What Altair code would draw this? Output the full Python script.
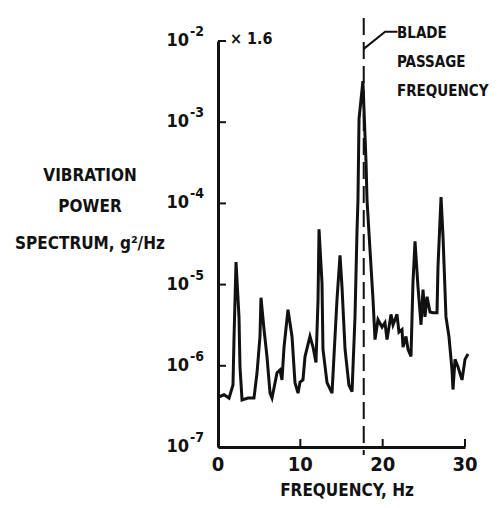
import altair as alt
import pandas as pd

# ---- data ----
freq = [0.0, 0.73, 1.34, 1.82, 1.94, 2.19, 2.55, 2.67, 2.92, 3.64,
        4.37, 4.74, 5.10, 5.22, 5.59, 5.95, 6.32, 6.56, 7.17, 7.53,
        7.77, 8.02, 8.50, 8.99, 9.35, 9.72, 9.96, 10.32, 10.57, 11.17,
        11.54, 11.90, 12.15, 12.27, 12.63, 12.75, 13.24, 13.85, 14.45, 14.82,
        15.06, 15.43, 15.90, 16.28, 16.64, 16.88, 17.00, 17.13, 17.60, 17.98,
        18.10, 18.46, 18.83, 19.07, 19.43, 19.92, 20.28, 20.53, 21.01, 21.26,
        21.74, 21.98, 22.35, 22.47, 22.83, 23.08, 23.44, 23.68, 23.93, 24.29,
        24.66, 24.90, 25.14, 25.39, 25.75, 26.11, 26.60, 26.72, 27.09, 27.33,
        27.69, 28.05, 28.42, 28.54, 28.79, 29.15, 29.64, 30.00, 30.37]
psd = [4.1e-7, 4.4e-7, 4.0e-7, 5.8e-7, 2.1e-6, 1.9e-5, 4.0e-6, 9.7e-7, 3.8e-7, 4.0e-7,
       4.0e-7, 8.2e-7, 2.3e-6, 6.9e-6, 2.8e-6, 1.3e-6, 4.6e-7, 4.0e-7, 8.2e-7, 8.9e-7,
       6.7e-7, 1.7e-6, 4.9e-6, 2.3e-6, 6.2e-7, 4.6e-7, 6.3e-7, 6.7e-7, 1.3e-6, 2.3e-6,
       1.7e-6, 1.1e-6, 6.5e-6, 4.8e-5, 1.06e-5, 1.6e-6, 6.2e-7, 4.6e-7, 6.5e-6, 2.3e-5,
       9.4e-6, 1.6e-6, 5.8e-7, 4.8e-7, 4.0e-6, 4.4e-5, 1.1e-4, 1.1e-3, 3.2e-3, 3.2e-4,
       1.1e-4, 2.7e-5, 6.5e-6, 2.1e-6, 3.7e-6, 3.0e-6, 3.4e-6, 2.1e-6, 4.3e-6, 3.2e-6,
       4.3e-6, 2.6e-6, 2.8e-6, 1.7e-6, 2.3e-6, 1.6e-6, 1.3e-6, 1.06e-5, 3.4e-5, 9.4e-6,
       3.2e-6, 8.7e-6, 4.0e-6, 7.1e-6, 4.6e-6, 4.5e-6, 4.5e-6, 1.67e-5, 1.2e-4, 3.9e-5,
       4.0e-6, 2.3e-6, 8.9e-7, 5.1e-7, 1.2e-6, 9.7e-7, 6.7e-7, 1.2e-6, 1.4e-6]

ytick_vals = [1e-7, 1e-6, 1e-5, 1e-4, 1e-3, 1e-2]
ytick_exps = ["-7", "-6", "-5", "-4", "-3", "-2"]
xtick_vals = [0, 10, 20, 30]
xtick_labels = ["0", "10", "20", "30"]
blade_freq = [17.7]
leader_f = [17.7, 20.3, 21.8]
leader_v = [8.0e-3, 1.3e-2, 1.3e-2]
annot_lines = ["BLADE", "PASSAGE", "FREQUENCY"]
ytitle_lines = ["VIBRATION", "POWER", "SPECTRUM, g\u00b2/Hz"]
xtitle = "FREQUENCY, Hz"
top_note = "\u00d7 1.6"

W, H = 247, 406
FONT = "DejaVu Sans Condensed, DejaVu Sans, sans-serif"
INK = "#111111"

df = pd.DataFrame({"f": freq, "psd": psd})
xs = alt.Scale(domain=[0, 30], nice=False, zero=False)
ys = alt.Scale(type="log", domain=[1e-7, 1e-2], nice=False)

ax = alt.Axis(labels=False, ticks=False, grid=False, domainColor=INK, domainWidth=3, title=None)


def X(field):
    return alt.X(field, scale=xs, axis=ax)


def Y(field):
    return alt.Y(field, scale=ys, axis=ax)


line = alt.Chart(df).mark_line(color=INK, strokeWidth=3, clip=False).encode(
    x=X("f:Q"), y=Y("psd:Q"))

ytdf = pd.DataFrame({"v": ytick_vals, "exp": ytick_exps})
yticks = alt.Chart(ytdf).mark_rule(color=INK, strokeWidth=2).encode(
    y=Y("v:Q"), x=alt.value(0), x2=alt.value(8))
y10 = alt.Chart(ytdf).mark_text(align="right", baseline="middle", font=FONT,
                                fontSize=18, fontWeight="bold", color=INK).encode(
    y=Y("v:Q"), x=alt.value(-29), text=alt.value("10"))
yexp = alt.Chart(ytdf).mark_text(align="left", baseline="middle", font=FONT,
                                 fontSize=14, fontWeight="bold", color=INK, dy=-9).encode(
    y=Y("v:Q"), x=alt.value(-28), text="exp:N")

xtdf = pd.DataFrame({"v": xtick_vals, "lab": xtick_labels})
xticks = alt.Chart(xtdf[xtdf.v > 0]).mark_rule(color=INK, strokeWidth=2).encode(
    x=X("v:Q"), y=alt.value(H), y2=alt.value(H - 8))
xlabs = alt.Chart(xtdf).mark_text(align="center", baseline="middle", font=FONT,
                                  fontSize=20, fontWeight="bold", color=INK).encode(
    x=X("v:Q"), y=alt.value(H + 18), text="lab:N")

dash = alt.Chart(pd.DataFrame({"f": blade_freq})).mark_rule(
    color=INK, strokeWidth=2, strokeDash=[17, 7]).encode(
    x=X("f:Q"), y=alt.value(-23), y2=alt.value(H + 8))

leader = alt.Chart(pd.DataFrame({"f": leader_f, "v": leader_v, "o": [0, 1, 2]})).mark_line(
    color=INK, strokeWidth=2, clip=False).encode(
    x=X("f:Q"), y=Y("v:Q"), order="o:Q")

annot = alt.Chart(pd.DataFrame({"t": annot_lines, "yy": [-8, 21, 50]})).mark_text(
    align="left", baseline="middle", font=FONT, fontSize=15, fontWeight="bold", color=INK).encode(
    x=alt.value(179), y=alt.Y("yy:Q", scale=None, axis=None), text="t:N")

ytitle = alt.Chart(pd.DataFrame({"t": ytitle_lines, "yy": [135, 166, 203]})).mark_text(
    align="center", baseline="middle", font=FONT, fontSize=17, fontWeight="bold", color=INK).encode(
    x=alt.value(-128), y=alt.Y("yy:Q", scale=None, axis=None), text="t:N")

xt = alt.Chart(pd.DataFrame({"t": [xtitle]})).mark_text(
    align="center", baseline="middle", font=FONT, fontSize=17, fontWeight="bold", color=INK).encode(
    x=alt.value(129), y=alt.value(H + 44), text="t:N")

note = alt.Chart(pd.DataFrame({"t": [top_note]})).mark_text(
    align="left", baseline="middle", font=FONT, fontSize=16, fontWeight="bold", color=INK).encode(
    x=alt.value(12), y=alt.value(-2), text="t:N")

chart = alt.layer(line, yticks, y10, yexp, xticks, xlabs, dash, leader, annot, ytitle, xt, note).properties(
    width=W, height=H,
    autosize=alt.AutoSizeParams(type="none"),
    padding={"left": 210, "top": 33, "right": 27, "bottom": 55},
).configure(background="white", view=alt.ViewConfig(stroke=None))

chart.save("out.html", embed_options={"renderer": "svg", "actions": False})
